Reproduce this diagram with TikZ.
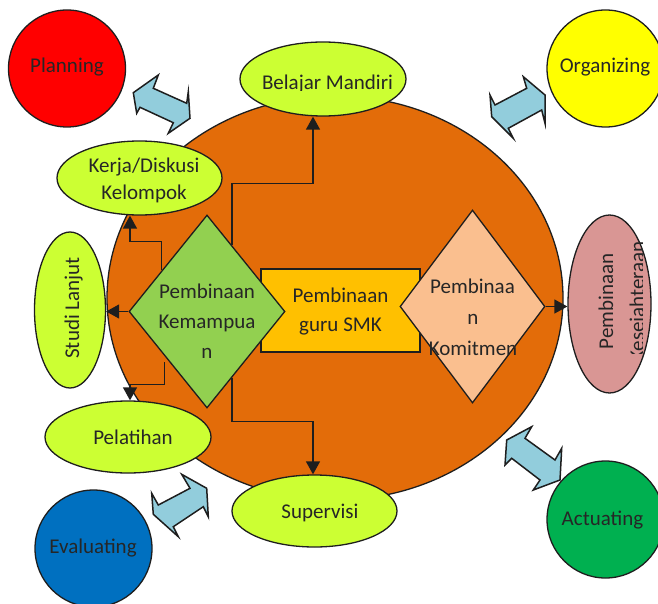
\documentclass[tikz,border=0pt]{standalone}
\usepackage{fontspec}
\setmainfont{Carlito}
\usetikzlibrary{shapes.geometric,arrows.meta,calc}
\definecolor{lineC}{HTML}{1E1E1E}
\definecolor{textC}{HTML}{262626}
\definecolor{hubC}{HTML}{E36C09}
\definecolor{limeC}{HTML}{CCFF33}
\definecolor{kemC}{HTML}{92D050}
\definecolor{peachC}{HTML}{FABF8F}
\definecolor{rectC}{HTML}{FFC000}
\definecolor{pinkC}{HTML}{D99694}
\definecolor{skyC}{HTML}{92CDDC}
\definecolor{redC}{HTML}{FF0000}
\definecolor{yellowC}{HTML}{FFFF00}
\definecolor{blueC}{HTML}{0070C0}
\definecolor{greenC}{HTML}{00B050}
\begin{document}
\begin{tikzpicture}[x=1pt,y=-1pt,
  outl/.style={draw=lineC, line width=1.3pt},
  ell/.style={ellipse, outl, fill=limeC, inner sep=0pt},
  ball/.style={circle, outl, inner sep=0pt, minimum size=117pt},
  dia/.style={diamond, outl, inner sep=0pt},
  conn/.style={draw=lineC, line width=1.4pt, -{Triangle[length=13pt,width=14pt]}},
  lbl/.style={text=textC, font=\fontsize{21}{30}\selectfont, inner sep=0pt, anchor=base},
  dbl/.style={fill=skyC, draw=lineC, line width=1.5pt, line join=miter}
]
\useasboundingbox (0,0) rectangle (658,604);

% central disc
\node[ellipse, outl, fill=hubC, minimum width=456pt, minimum height=404pt, inner sep=0pt] (hub) at (335,298) {};

% activity ellipses
\node[ell, minimum width=166pt, minimum height=74pt] (belajar) at (323,79) {};
\node[ell, minimum width=165pt, minimum height=74pt] (kerja) at (139.5,178) {};
\node[ell, minimum width=71pt, minimum height=156pt] (studi) at (70,310) {};
\node[ell, minimum width=166pt, minimum height=72pt] (pelatihan) at (128,437) {};
\node[ell, minimum width=165pt, minimum height=72pt] (supervisi) at (314.5,511) {};
\node[ellipse, outl, fill=pinkC, minimum width=83pt, minimum height=178pt, inner sep=0pt] (sejahtera) at (609.5,304) {};

% core box and the two diamonds
\node[outl, fill=rectC, minimum width=159pt, minimum height=83pt, inner sep=0pt] (guru) at (340.5,310.5) {};
\node[dia, fill=kemC, minimum width=156pt, minimum height=193pt] (kemampuan) at (207,311.5) {};
\node[dia, fill=peachC, minimum width=145pt, minimum height=193pt] (komitmen) at (472.5,306.5) {};

% connectors
\coordinate (kb) at ($(kemampuan.north)!0.32!(kemampuan.east)$);
\coordinate (bj) at ([xshift=-10pt]belajar.south);
\draw[conn] (kb) |- ($(bj)+(0,67)$) -- (bj);

\coordinate (kk) at ($(kemampuan.north)!0.577!(kemampuan.west)$);
\coordinate (kj) at ([xshift=-9.5pt]kerja.south);
\draw[conn] (kk) |- ($(kj)+(0,26)$) -- (kj);

\draw[conn] (kemampuan.west) -- (kemampuan.west -| studi.east);

\coordinate (kp) at ($(kemampuan.west)!0.46!(kemampuan.south)+(0,6)$);
\coordinate (pl) at ([xshift=2pt]pelatihan.north);
\draw[conn] (kp) |- ($(pl)+(0,-16)$) -- (pl);

\coordinate (ks) at ($(kemampuan.south)!0.32!(kemampuan.east)$);
\coordinate (sv) at ([xshift=-1.5pt]supervisi.north);
\draw[conn] (ks) |- ($(sv)+(0,-53)$) -- (sv);

\draw[conn] (komitmen.east) -- (komitmen.east -| sejahtera.west);

% management function circles
\node[ball, fill=redC] (planning) at (67,68.5) {};
\node[ball, fill=yellowC] (organizing) at (605.5,68.5) {};
\node[ball, fill=blueC] (evaluating) at (93.5,548.5) {};
\node[ball, fill=greenC] (actuating) at (605.5,519.5) {};

% double block arrows
\draw[dbl] (158.3,75) -- (153.3,88.3) -- (186.7,103.3) -- (188.3,91.7) -- (190,118.3)
  -- (168.3,133.3) -- (173.3,122.7) -- (140,107.3) -- (136.7,113.3) -- (133.3,92.7) -- cycle;
\draw[dbl] (523.3,76.7) -- (545,95) -- (545,123.3) -- (541.7,110) -- (508.3,128.3)
  -- (513.3,138.3) -- (491.7,116.7) -- (490,95) -- (495,105) -- (526.7,88.3) -- cycle;
\draw[dbl] (181.7,474.3) -- (206.7,488.3) -- (208.3,516.7) -- (203.3,506.7) -- (173.3,526.7)
  -- (178.3,536.7) -- (153.3,514.3) -- (151.7,493.3) -- (158.3,505) -- (190,488.3) -- cycle;
\draw[dbl] (531.7,426.7) -- (506.7,440) -- (505,465) -- (511.7,458.3) -- (540,480)
  -- (533.3,490) -- (560,480) -- (561.7,448.3) -- (555,460) -- (525,438.3) -- cycle;

% labels
\node[lbl] (tplan) at (67,72.5) {Planning};
\node[lbl] (torg) at (605,72.5) {Organizing};
\node[lbl] (teval) at (93,553) {Evaluating};
\node[lbl] (tact) at (602.5,525.5) {Actuating};
\begin{scope}
  \clip (230,40) rectangle (420,91);
  \node[lbl] (tbel) at (327.5,90) {Belajar Mandiri};
\end{scope}
\node[lbl] (tker1) at (144,173) {Kerja/Diskusi};
\node[lbl] (tker2) at (144,200) {Kelompok};
\node[lbl, rotate=90] (tstudi) at (79,308) {Studi Lanjut};
\node[lbl] (tpel) at (133,444) {Pelatihan};
\node[lbl] (tsup) at (320,518) {Supervisi};
\node[lbl] (tkem1) at (207,298) {Pembinaan};
\node[lbl] (tkem2) at (207,328) {Kemampua};
\node[lbl] (tkem3) at (207,358) {n};
\node[lbl] (tgur1) at (340.5,302) {Pembinaan};
\node[lbl] (tgur2) at (340.5,331) {guru SMK};
\node[lbl] (tkom1) at (472.5,293) {Pembinaa};
\node[lbl] (tkom2) at (473,324) {n};
\node[lbl] (tkom3) at (473,355) {Komitmen};
\begin{scope}
  \clip (575,242) rectangle (642,353);
  \node[lbl, rotate=90] (tsej1) at (613,301.5) {Pembinaan};
  \node[lbl, rotate=90] (tsej2) at (644,301.5) {Kesejahteraan};
\end{scope}
\end{tikzpicture}
\end{document}
